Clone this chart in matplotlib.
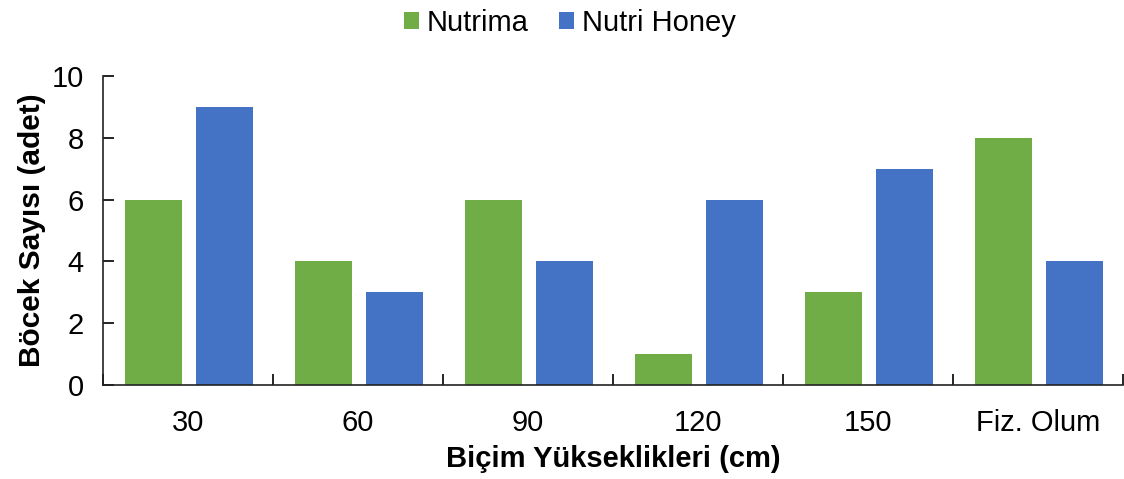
import matplotlib
matplotlib.use("Agg")
import matplotlib.pyplot as plt
import numpy as np

categories = ["30", "60", "90", "120", "150", "Fiz. Olum"]
nutrima = [6, 4, 6, 1, 3, 8]
nutri_honey = [9, 3, 4, 6, 7, 4]
series_names = ["Nutrima", "Nutri Honey"]
colors = ["#70AD47", "#4472C4"]

plt.rcParams["font.family"] = ["Liberation Sans", "DejaVu Sans"]

fig = plt.figure(figsize=(11.24, 4.79), dpi=100)
ax = fig.add_axes([0.0916, 0.1962, 0.9075, 0.6451])

x = np.arange(len(categories))
w = 0.335
off = 0.21
ax.bar(x - off + 0.005, nutrima, width=w, color=colors[0], label=series_names[0], zorder=2)
ax.bar(x + off + 0.005, nutri_honey, width=w, color=colors[1], label=series_names[1], zorder=2)

ax.set_xlim(-0.5, len(categories) - 0.5)
ax.set_ylim(0, 10)
ax.set_yticks(range(0, 11, 2))
ax.tick_params(axis="y", labelsize=21, length=8, width=1.2, direction="in", pad=14)

ax.set_xticks(x)
ax.set_xticklabels(categories, fontsize=21)
ax.tick_params(axis="x", which="major", length=0, pad=17)
ax.set_xticks(np.arange(-0.5, len(categories) + 0.5, 1), minor=True)
ax.tick_params(axis="x", which="minor", length=8, width=1.2, direction="in")

for s in ["top", "right"]:
    ax.spines[s].set_visible(False)
for s in ["left", "bottom"]:
    ax.spines[s].set_linewidth(1.2)
    ax.spines[s].set_color("#222222")

ax.set_ylabel("Böcek Sayısı (adet)", fontsize=21.5, fontweight="bold", labelpad=4)
ax.set_xlabel("Biçim Yükseklikleri (cm)", fontsize=21, fontweight="bold", labelpad=6)

ax.legend(loc="center", bbox_to_anchor=(0.458, 1.172), ncol=2, frameon=False,
          fontsize=21, handlelength=0.5, handleheight=0.5, handletextpad=0.28,
          columnspacing=1.05, borderpad=0)

fig.savefig("out.png", dpi=100)
